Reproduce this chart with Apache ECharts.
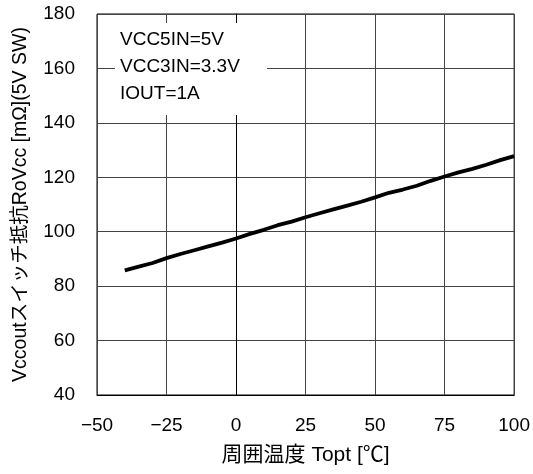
<!DOCTYPE html>
<html><head><meta charset="utf-8">
<script src="https://cdn.jsdelivr.net/npm/echarts@6/dist/echarts.min.js"></script>
<style>html,body{margin:0;padding:0;background:#fff}#c{width:533px;height:474px}</style>
</head><body><div id="c"></div>
<script>
const temps = [-40,-35,-30,-25,-20,-15,-10,-5,0,5,10,15,20,25,30,35,40,45,50,55,60,65,70,75,80,85,90,95,100];
const resistance = [85.8,87.2,88.5,90.3,91.8,93.2,94.6,96.0,97.5,99.2,100.7,102.4,103.7,105.3,106.8,108.2,109.6,111.0,112.6,114.3,115.5,116.9,118.7,120.3,121.8,123.1,124.6,126.3,127.8];
const notes = ['VCC5IN=5V','VCC3IN=3.3V','IOUT=1A'];
const xTitle = '周囲温度 Topt [℃]';
const yTitle = 'Vccoutスイッチ抵抗RoVcc [mΩ](5V SW)';
const FONT = '"Liberation Sans","Noto Sans CJK JP",sans-serif';
const chart = echarts.init(document.getElementById('c'));
chart.setOption({
  animation:false,
  backgroundColor:'#fff',
  grid:{left:97,right:18,top:14,bottom:79,show:true,borderColor:'#000',borderWidth:1},
  xAxis:{type:'value',min:-50,max:100,interval:25,
    axisLine:{lineStyle:{color:'#000',width:1}},
    axisTick:{show:false},
    axisLabel:{color:'#000',fontSize:19,fontFamily:FONT,margin:21,formatter:v=>String(v).replace('-','\u2212')},
    splitLine:{show:true,lineStyle:{color:'#444',width:1}},
    name:xTitle,nameLocation:'middle',nameGap:50,
    nameTextStyle:{color:'#000',fontSize:21,fontFamily:FONT}},
  yAxis:{type:'value',min:40,max:180,interval:20,
    axisLine:{lineStyle:{color:'#000',width:1}},
    axisTick:{show:false},
    axisLabel:{color:'#000',fontSize:19,fontFamily:FONT,margin:22},
    splitLine:{show:true,lineStyle:{color:'#444',width:1}},
    name:yTitle,nameLocation:'middle',nameGap:67,
    nameTextStyle:{color:'#000',fontSize:19.5,fontFamily:FONT}},
  graphic:[
    {type:'rect',z:50,shape:{x:115,y:23,width:152,height:92},style:{fill:'#fff'}},
    {type:'text',z:51,left:120,top:26,style:{text:notes.join('\n'),fill:'#000',font:'19px '+FONT,lineHeight:27}}
  ],
  series:[{type:'line',data:temps.map((t,i)=>[t,resistance[i]]),showSymbol:false,
    lineStyle:{color:'#000',width:3.8},z:10}]
});
</script></body></html>
